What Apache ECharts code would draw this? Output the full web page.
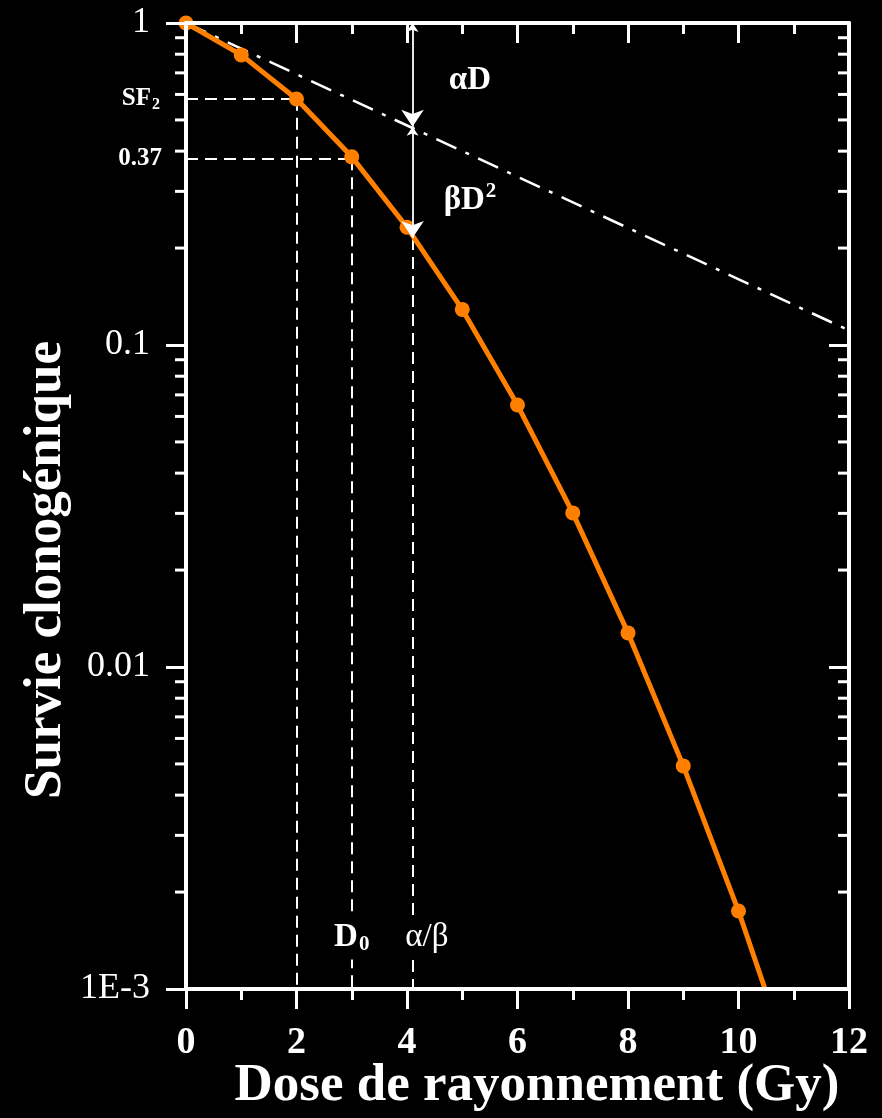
<!DOCTYPE html>
<html>
<head>
<meta charset="utf-8">
<script src="https://cdn.jsdelivr.net/npm/echarts@6/dist/echarts.min.js"></script>
<style>
  html, body { margin: 0; padding: 0; background: #000; }
  #chart { width: 882px; height: 1118px; }
</style>
</head>
<body>
<div id="chart"></div>
<script>
// dose (Gy) and clonogenic survival
var doses    = [0, 1, 2, 3, 4, 5, 6, 7, 8, 9, 10, 10.48];
var survival = [1, 0.796, 0.581, 0.384, 0.232, 0.129, 0.0651, 0.0301, 0.01276, 0.00493, 0.001746, 0.001];

// exp(-alpha D) straight line (dash-dot)
var alphaDoses = [0, 12];
var alphaSurv  = [1, 0.111];

var sf2 = 0.582;      // survival at 2 Gy
var d0Surv = 0.38;    // the 0.37 level
var abDose = 4.1;     // alpha/beta
var abJoin = 0.476;   // where the arrows meet the dash-dot line
var abLow  = 0.215;   // bottom of the beta D^2 arrow

// annotations: text, dose, survival
var annotText = ['{b|D}{sub|0}', '{r|α/β}', '{b|αD}', '{b|βD}{sup|2}', '{sb|SF}{ss|2}', '{sb|0.37}'];
var annotX    = [3, 4.36, 5.14, 5.14, 0, 0];
var annotY    = [0.00145, 0.00145, 0.665, 0.282, sf2, d0Surv];

var yTickLabels = ['1E-3', '0.01', '0.1', '1'];
var decades = [0.001, 0.01, 0.1];
var minorSteps = [2, 3, 4, 5, 6, 7, 8, 9];
var yMinorTicks = [];
decades.forEach(function (d) {
  minorSteps.forEach(function (k) { yMinorTicks.push(d * k); });
});

var serif = 'Liberation Serif';
var white = '#fff';
var orange = '#ff7f00';

var myChart = echarts.init(document.getElementById('chart'));

var curve = doses.map(function (d, i) {
  var p = { value: [d, survival[i]] };
  if (i === doses.length - 1) p.symbol = 'none';
  return p;
});

var richText = {
  b:   { fill: white, fontFamily: serif, fontWeight: 'bold', fontSize: 33 },
  r:   { fill: white, fontFamily: serif, fontSize: 33 },
  sub: { fill: white, fontFamily: serif, fontWeight: 'bold', fontSize: 21, padding: [16, 0, 0, 1] },
  sup: { fill: white, fontFamily: serif, fontWeight: 'bold', fontSize: 21, padding: [0, 0, 16, 1] },
  sb:  { fill: white, fontFamily: serif, fontWeight: 'bold', fontSize: 25 },
  ss:  { fill: white, fontFamily: serif, fontWeight: 'bold', fontSize: 16, padding: [12, 0, 0, 1] }
};
// where each annotation sits relative to its anchor
var annotAlign = ['center', 'center', 'center', 'center', 'right', 'right'];
var annotShift = [0, 0, 0, 0, -26, -24];
var annotBg    = [true, true, false, false, false, false];

var axisLine = { show: true, onZero: false, lineStyle: { color: white, width: 4 } };
var tickStyle = { color: white, width: 3 };

option = {
  backgroundColor: '#000',
  animation: false,
  grid: { left: 186, right: 33, top: 23, bottom: 129 },
  xAxis: [
    {
      type: 'value', min: 0, max: 12, interval: 2, position: 'bottom', z: 10,
      axisLine: axisLine,
      axisTick: { show: true, inside: false, length: 20, lineStyle: tickStyle },
      minorTick: { show: true, splitNumber: 2, length: 11, lineStyle: tickStyle },
      axisLabel: { color: white, fontFamily: serif, fontWeight: 'bold', fontSize: 38, margin: 35 },
      splitLine: { show: false }
    },
    {
      type: 'value', min: 0, max: 12, interval: 2, position: 'top', z: 10,
      axisLine: axisLine,
      axisTick: { show: true, inside: true, length: 20, lineStyle: tickStyle },
      minorTick: { show: true, splitNumber: 2, length: 11, lineStyle: tickStyle },
      axisLabel: { show: false },
      splitLine: { show: false }
    }
  ],
  yAxis: [
    {
      type: 'log', min: 0.001, max: 1, position: 'left', z: 10,
      axisLine: axisLine,
      axisTick: { show: true, inside: false, length: 20, lineStyle: tickStyle },
      axisLabel: {
        color: white, fontFamily: serif, fontSize: 36, margin: 36,
        formatter: function (v) { return yTickLabels[Math.round(Math.log10(v)) + 3]; }
      },
      splitLine: { show: false }
    },
    {
      type: 'log', min: 0.001, max: 1, position: 'right', z: 10,
      axisLine: axisLine,
      axisTick: { show: true, inside: true, length: 20, lineStyle: tickStyle },
      axisLabel: { show: false },
      splitLine: { show: false }
    }
  ],
  series: [
    {
      // minor log ticks on the left (outside) and right (inside)
      type: 'custom', z: 11, silent: true, clip: false,
      data: yMinorTicks.map(function (v) { return [0, v]; }),
      renderItem: function (params, api) {
        var v = api.value(1);
        var l = api.coord([0, v]);
        var r = api.coord([12, v]);
        return {
          type: 'group',
          children: [
            { type: 'line', shape: { x1: l[0] - 11, y1: l[1], x2: l[0], y2: l[1] }, style: { stroke: white, lineWidth: 3 } },
            { type: 'line', shape: { x1: r[0] - 11, y1: r[1], x2: r[0], y2: r[1] }, style: { stroke: white, lineWidth: 3 } }
          ]
        };
      }
    },
    {
      type: 'line', z: 3, silent: true,
      data: alphaDoses.map(function (d, i) { return [d, alphaSurv[i]]; }),
      symbol: 'none',
      lineStyle: { color: white, width: 2.5, type: [22, 10, 4, 10] }
    },
    {
      type: 'lines', coordinateSystem: 'cartesian2d', z: 3, silent: true,
      lineStyle: { color: white, width: 2, type: [12, 7], opacity: 1 },
      data: [
        { coords: [[0, sf2], [2, sf2]] },
        { coords: [[2, sf2], [2, 0.001]] },
        { coords: [[0, d0Surv], [3, d0Surv]] },
        { coords: [[3, d0Surv], [3, 0.001]] },
        { coords: [[abDose, abLow], [abDose, 0.001]] }
      ]
    },
    {
      type: 'lines', coordinateSystem: 'cartesian2d', z: 12, silent: true,
      symbol: ['arrow', 'arrow'], symbolSize: [9, 17],
      lineStyle: { color: white, width: 1.8, opacity: 1 },
      data: [
        { coords: [[abDose, 1], [abDose, abJoin]] },
        { coords: [[abDose, abJoin], [abDose, abLow]] }
      ]
    },
    {
      type: 'line', z: 5, silent: true,
      data: curve,
      symbol: 'circle', symbolSize: 15,
      itemStyle: { color: orange },
      lineStyle: { color: orange, width: 5 }
    },
    {
      // text annotations anchored on data coordinates
      type: 'custom', z: 13, silent: true, clip: false,
      data: annotX.map(function (x, i) { return [x, annotY[i]]; }),
      renderItem: function (params, api) {
        var i = params.dataIndex;
        var p = api.coord([api.value(0), api.value(1)]);
        return {
          type: 'text',
          x: p[0] + annotShift[i], y: p[1],
          style: {
            text: annotText[i], rich: richText,
            align: annotAlign[i], verticalAlign: 'middle',
            backgroundColor: annotBg[i] ? '#000' : null,
            padding: annotBg[i] ? [4, 5] : 0
          }
        };
      }
    }
  ],
  graphic: [
    {
      type: 'text', x: 46, y: 570, rotation: Math.PI / 2,
      style: {
        text: 'Survie clonogénique', fill: white, font: 'bold 53px "Liberation Serif"',
        textAlign: 'center', textVerticalAlign: 'middle'
      }
    },
    {
      type: 'text', x: 537, y: 1086,
      style: {
        text: 'Dose de rayonnement (Gy)', fill: white, font: 'bold 53px "Liberation Serif"',
        textAlign: 'center', textVerticalAlign: 'middle'
      }
    }
  ]
};

myChart.setOption(option);
</script>
</body>
</html>
